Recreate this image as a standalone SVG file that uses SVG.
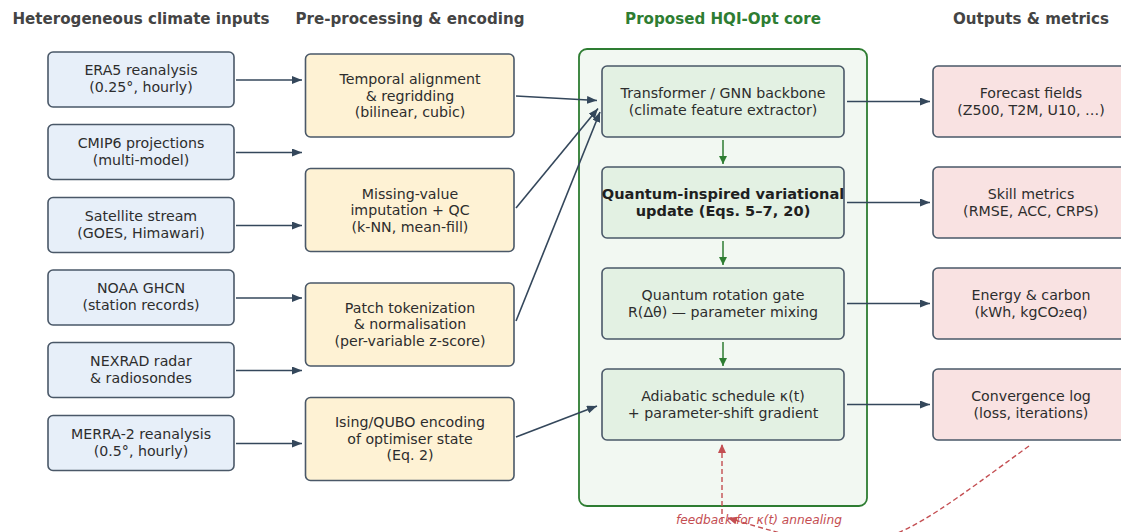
<svg xmlns="http://www.w3.org/2000/svg" width="1121" height="532" viewBox="0 0 1121 532">
<style>
.hdr{font-family:"DejaVu Sans",sans-serif;font-size:15.1px;font-weight:bold;fill:#444;text-anchor:middle}
.t{font-family:"DejaVu Sans",sans-serif;font-size:14.2px;fill:#2d2d2d;text-anchor:middle}
.tb{font-family:"DejaVu Sans",sans-serif;font-size:14.6px;font-weight:bold;fill:#1f1f1f;text-anchor:middle}
.box{stroke:#4a5868;stroke-width:1.6}
.in{fill:#e7eff9}
.pre{fill:#fef2d4}
.core{fill:#e3f1e3}
.out{fill:#f9e2e2}
.c{fill:none;stroke:#34475b;stroke-width:1.6}
.g{fill:none;stroke:#2e7d32;stroke-width:1.5}
.r{fill:none;stroke:#c44e52;stroke-width:1.4;stroke-dasharray:5,3}
.fb{font-family:"DejaVu Sans",sans-serif;font-size:12.2px;font-style:italic;fill:#c44e52;text-anchor:middle}
</style>
<defs>
<marker id="ah" viewBox="0 0 10 8" markerWidth="10" markerHeight="8" refX="10" refY="4" orient="auto" markerUnits="userSpaceOnUse"><path d="M0,0 L10,4 L0,8 z" fill="#34475b"/></marker>
<marker id="ag" viewBox="0 0 8 8" markerWidth="8" markerHeight="8" refX="8" refY="4" orient="auto" markerUnits="userSpaceOnUse"><path d="M0,0 L8,4 L0,8 z" fill="#2e7d32"/></marker>
<marker id="ar" viewBox="0 0 9 8" markerWidth="9" markerHeight="8" refX="9" refY="4" orient="auto" markerUnits="userSpaceOnUse"><path d="M0,0 L9,4 L0,8 z" fill="#c44e52"/></marker>
</defs>
<rect width="1121" height="532" fill="#ffffff"/>

<g id="headers">
<text class="hdr" x="141" y="24">Heterogeneous climate inputs</text>
<text class="hdr" x="410" y="24">Pre-processing &amp; encoding</text>
<text class="hdr" x="723" y="24" style="fill:#2e7d32">Proposed HQI-Opt core</text>
<text class="hdr" x="1031" y="24">Outputs &amp; metrics</text>
</g>

<g id="core-container">
<rect x="579" y="49" width="288" height="457" rx="8" fill="#f2f8f2" stroke="#2e7d32" stroke-width="1.8"/>
</g>

<g id="in1"><rect class="box in" x="48" y="52" width="186" height="55" rx="5"/><text class="t" x="141" y="75">ERA5 reanalysis</text><text class="t" x="141" y="92">(0.25°, hourly)</text></g>
<g id="in2"><rect class="box in" x="48" y="124.5" width="186" height="55" rx="5"/><text class="t" x="141" y="147.5">CMIP6 projections</text><text class="t" x="141" y="164.5">(multi-model)</text></g>
<g id="in3"><rect class="box in" x="48" y="197.5" width="186" height="55" rx="5"/><text class="t" x="141" y="220.5">Satellite stream</text><text class="t" x="141" y="237.5">(GOES, Himawari)</text></g>
<g id="in4"><rect class="box in" x="48" y="270" width="186" height="55" rx="5"/><text class="t" x="141" y="293">NOAA GHCN</text><text class="t" x="141" y="310">(station records)</text></g>
<g id="in5"><rect class="box in" x="48" y="342.5" width="186" height="55" rx="5"/><text class="t" x="141" y="365.5">NEXRAD radar</text><text class="t" x="141" y="382.5">&amp; radiosondes</text></g>
<g id="in6"><rect class="box in" x="48" y="415.5" width="186" height="55" rx="5"/><text class="t" x="141" y="438.5">MERRA-2 reanalysis</text><text class="t" x="141" y="455.5">(0.5°, hourly)</text></g>

<g id="pre1"><rect class="box pre" x="305.5" y="54" width="208.5" height="83" rx="5"/><text class="t" x="410" y="84">Temporal alignment</text><text class="t" x="410" y="100.5">&amp; regridding</text><text class="t" x="410" y="117">(bilinear, cubic)</text></g>
<g id="pre2"><rect class="box pre" x="305.5" y="168.5" width="208.5" height="83" rx="5"/><text class="t" x="410" y="198.5">Missing-value</text><text class="t" x="410" y="215">imputation + QC</text><text class="t" x="410" y="231.5">(k-NN, mean-fill)</text></g>
<g id="pre3"><rect class="box pre" x="305.5" y="283" width="208.5" height="83" rx="5"/><text class="t" x="410" y="312.5">Patch tokenization</text><text class="t" x="410" y="329">&amp; normalisation</text><text class="t" x="410" y="345.5">(per-variable z-score)</text></g>
<g id="pre4"><rect class="box pre" x="305.5" y="397.5" width="208.5" height="83" rx="5"/><text class="t" x="410" y="427">Ising/QUBO encoding</text><text class="t" x="410" y="443.5">of optimiser state</text><text class="t" x="410" y="460">(Eq. 2)</text></g>

<g id="core1"><rect class="box core" x="602" y="66" width="242" height="71" rx="5"/><text class="t" x="723" y="98">Transformer / GNN backbone</text><text class="t" x="723" y="115">(climate feature extractor)</text></g>
<g id="core2"><rect class="box core" x="602" y="167" width="242" height="71" rx="5"/><text class="tb" x="723" y="199">Quantum-inspired variational</text><text class="tb" x="723" y="216">update (Eqs. 5–7, 20)</text></g>
<g id="core3"><rect class="box core" x="602" y="268" width="242" height="71" rx="5"/><text class="t" x="723" y="300">Quantum rotation gate</text><text class="t" x="723" y="317">R(Δθ) — parameter mixing</text></g>
<g id="core4"><rect class="box core" x="602" y="369" width="242" height="71" rx="5"/><text class="t" x="723" y="401">Adiabatic schedule κ(t)</text><text class="t" x="723" y="418">+ parameter-shift gradient</text></g>

<g id="out1"><rect class="box out" x="933" y="66" width="196" height="71" rx="5"/><text class="t" x="1031" y="98">Forecast fields</text><text class="t" x="1031" y="115">(Z500, T2M, U10, …)</text></g>
<g id="out2"><rect class="box out" x="933" y="167" width="196" height="71" rx="5"/><text class="t" x="1031" y="199">Skill metrics</text><text class="t" x="1031" y="216">(RMSE, ACC, CRPS)</text></g>
<g id="out3"><rect class="box out" x="933" y="268" width="196" height="71" rx="5"/><text class="t" x="1031" y="300">Energy &amp; carbon</text><text class="t" x="1031" y="317">(kWh, kgCO₂eq)</text></g>
<g id="out4"><rect class="box out" x="933" y="369" width="196" height="71" rx="5"/><text class="t" x="1031" y="401">Convergence log</text><text class="t" x="1031" y="418">(loss, iterations)</text></g>

<g id="connectors">
<line class="c" x1="236" y1="80" x2="302" y2="80" marker-end="url(#ah)"/>
<line class="c" x1="236" y1="152.5" x2="302" y2="152.5" marker-end="url(#ah)"/>
<line class="c" x1="236" y1="225.5" x2="302" y2="225.5" marker-end="url(#ah)"/>
<line class="c" x1="236" y1="298" x2="302" y2="298" marker-end="url(#ah)"/>
<line class="c" x1="236" y1="370.5" x2="302" y2="370.5" marker-end="url(#ah)"/>
<line class="c" x1="236" y1="443.5" x2="302" y2="443.5" marker-end="url(#ah)"/>

<line class="c" x1="516" y1="96" x2="597" y2="100.5" marker-end="url(#ah)"/>
<line class="c" x1="516" y1="208" x2="598" y2="108.5" marker-end="url(#ah)"/>
<line class="c" x1="516" y1="321" x2="600" y2="112" marker-end="url(#ah)"/>
<line class="c" x1="516" y1="437" x2="597" y2="406" marker-end="url(#ah)"/>

<line class="g" x1="723" y1="140" x2="723" y2="164" marker-end="url(#ag)"/>
<line class="g" x1="723" y1="241" x2="723" y2="265" marker-end="url(#ag)"/>
<line class="g" x1="723" y1="342" x2="723" y2="366" marker-end="url(#ag)"/>

<line class="c" x1="847" y1="101.5" x2="930" y2="101.5" marker-end="url(#ah)"/>
<line class="c" x1="847" y1="202.5" x2="930" y2="202.5" marker-end="url(#ah)"/>
<line class="c" x1="847" y1="303.5" x2="930" y2="303.5" marker-end="url(#ah)"/>
<line class="c" x1="847" y1="404.5" x2="930" y2="404.5" marker-end="url(#ah)"/>

<line class="r" x1="722" y1="522" x2="722" y2="444" marker-end="url(#ar)"/>
<path class="r" d="M1029,446 C879,555 878,563 728,518" marker-end="url(#ar)"/>
</g>
<g id="feedback-label">
<text class="fb" x="759" y="523.5">feedback for κ(t) annealing</text>
</g>
</svg>
